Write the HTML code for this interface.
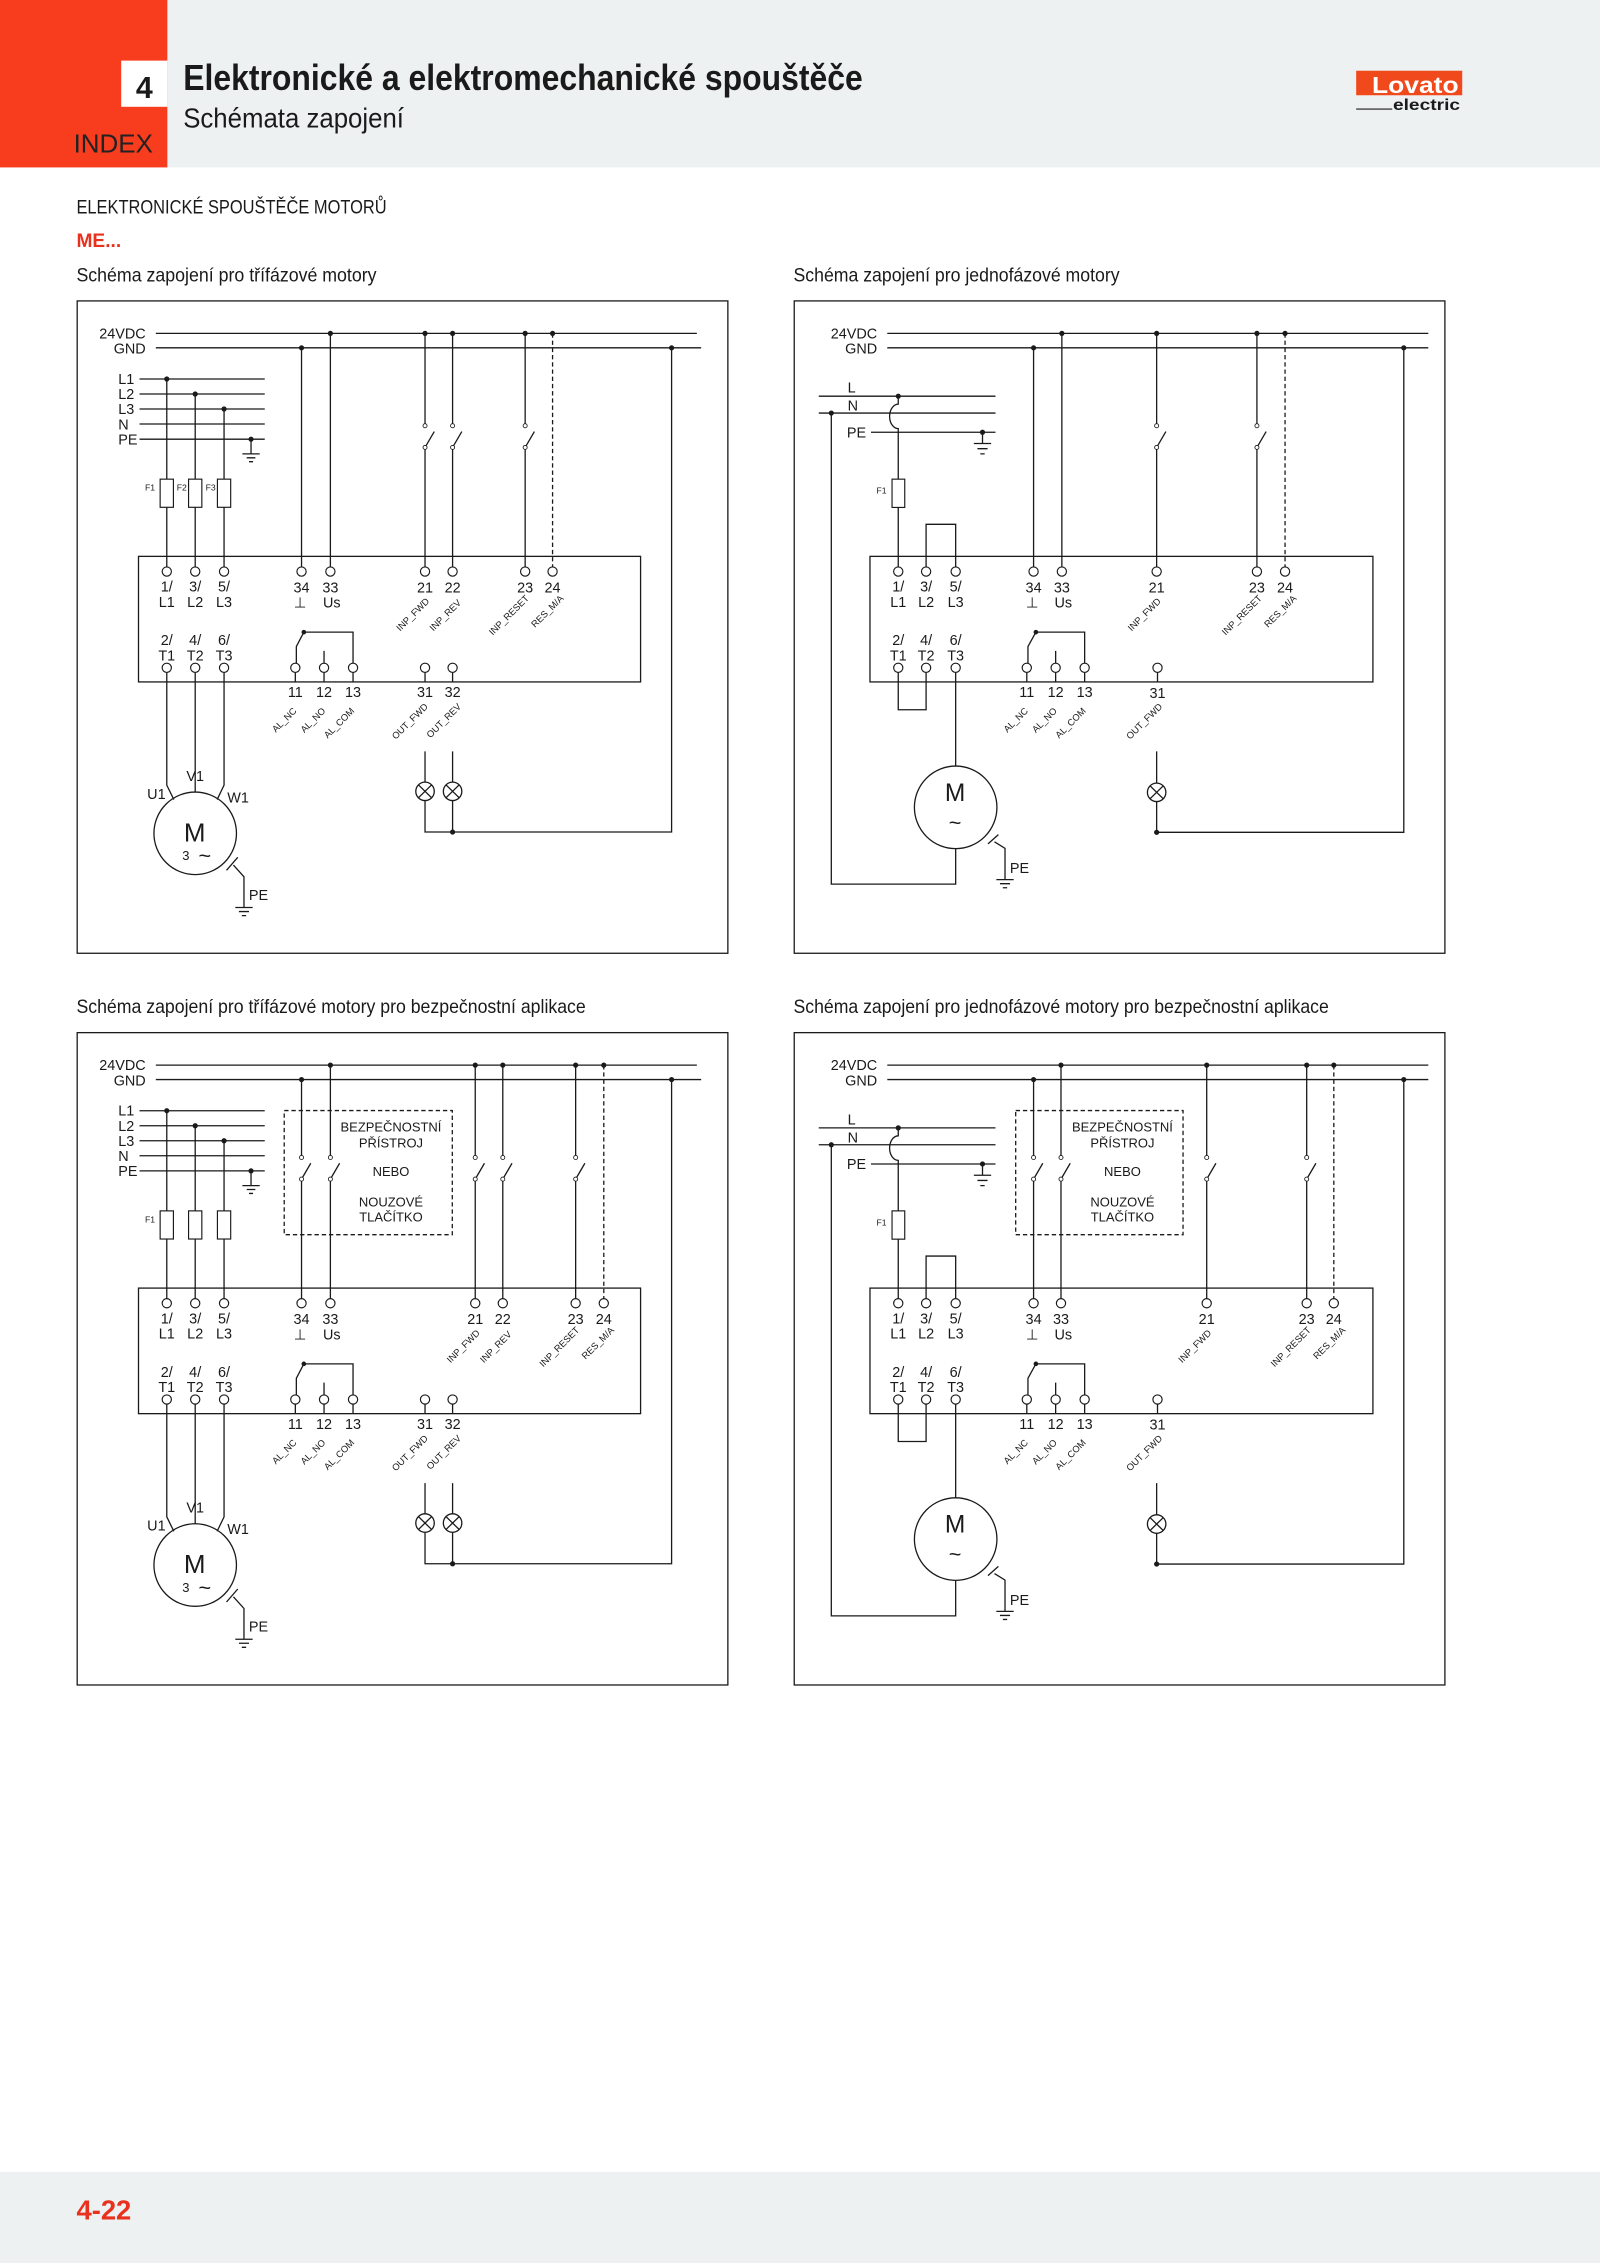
<!DOCTYPE html>
<html><head><meta charset="utf-8"><style>
html,body{margin:0;padding:0;background:#fff}
svg{display:block}
.l{stroke:#1a1a1a;stroke-width:0.9;fill:none}
.d{stroke:#1a1a1a;stroke-width:0.9;fill:none;stroke-dasharray:3,2}
.c{stroke:#1a1a1a;stroke-width:0.8;fill:#fff}
.o{stroke:#1a1a1a;stroke-width:0.6;fill:#fff}
.k{fill:#1a1a1a}
text{font-family:"Liberation Sans Narrow","Liberation Sans",sans-serif;fill:#1a1a1a}
.s{font-size:10px}
.m{font-size:10px;text-anchor:middle}
.r{font-size:6.5px;text-anchor:end}
.f{font-size:6px}
</style></head><body>
<svg width="1600" height="2263" viewBox="0 0 1109 1568" preserveAspectRatio="none" xmlns="http://www.w3.org/2000/svg">
<!-- header -->
<rect x="0" y="0" width="1109" height="116" fill="#eef1f2"/>
<rect x="0" y="0" width="116" height="116" fill="#f83c1e"/>
<rect x="84" y="42" width="32" height="32" fill="#fff"/>
<text x="100" y="68" text-anchor="middle" style="font-size:21px;font-weight:bold;font-family:'Liberation Sans',sans-serif">4</text>
<text x="127" y="62.5" textLength="471" lengthAdjust="spacingAndGlyphs" style="font-size:25px;font-weight:bold;font-family:'Liberation Sans',sans-serif">Elektronické a elektromechanické spouštěče</text>
<text x="127" y="88.5" textLength="153" lengthAdjust="spacingAndGlyphs" style="font-size:19px;font-family:'Liberation Sans',sans-serif">Schémata zapojení</text>
<text x="51" y="105.5" textLength="55" lengthAdjust="spacingAndGlyphs" style="font-size:18px;font-family:'Liberation Sans',sans-serif;fill:#222">INDEX</text>
<rect x="940" y="49" width="73.5" height="17" fill="#f04a1c"/>
<text x="951" y="64.5" textLength="60" lengthAdjust="spacingAndGlyphs" style="font-size:16px;font-weight:bold;fill:#fff;font-family:'Liberation Sans',sans-serif">Lovato</text>
<text x="965.5" y="76.2" textLength="46.5" lengthAdjust="spacingAndGlyphs" style="font-size:11px;font-weight:bold;font-family:'Liberation Sans',sans-serif">electric</text>
<line x1="940" y1="75.6" x2="965" y2="75.6" stroke="#1a1a1a" stroke-width="0.8"/>
<!-- section titles -->
<text x="53" y="148" textLength="215" lengthAdjust="spacingAndGlyphs" style="font-size:13.5px;font-family:'Liberation Sans',sans-serif">ELEKTRONICKÉ SPOUŠTĚČE MOTORŮ</text>
<text x="53" y="171" textLength="31" lengthAdjust="spacingAndGlyphs" style="font-size:13.5px;font-family:'Liberation Sans',sans-serif;fill:#e8321e;font-weight:bold">ME...</text>
<text x="53" y="195" textLength="208" lengthAdjust="spacingAndGlyphs" style="font-size:13.5px;font-family:'Liberation Sans',sans-serif">Schéma zapojení pro třífázové motory</text>
<text x="550" y="195" textLength="226" lengthAdjust="spacingAndGlyphs" style="font-size:13.5px;font-family:'Liberation Sans',sans-serif">Schéma zapojení pro jednofázové motory</text>
<text x="53" y="702" textLength="353" lengthAdjust="spacingAndGlyphs" style="font-size:13.5px;font-family:'Liberation Sans',sans-serif">Schéma zapojení pro třífázové motory pro bezpečnostní aplikace</text>
<text x="550" y="702" textLength="371" lengthAdjust="spacingAndGlyphs" style="font-size:13.5px;font-family:'Liberation Sans',sans-serif">Schéma zapojení pro jednofázové motory pro bezpečnostní aplikace</text>
<!-- footer -->
<rect x="0" y="1505" width="1109" height="63" fill="#eef1f2"/>
<text x="53" y="1538" style="font-size:19px;font-weight:bold;fill:#e8321e;font-family:'Liberation Sans',sans-serif">4-22</text>

<!-- ============ TOP-LEFT ============ -->
<g>
<rect class="l" x="53.5" y="208.5" width="451" height="452"/>
<text class="s" x="101" y="234.5" text-anchor="end">24VDC</text>
<text class="s" x="101" y="245" text-anchor="end">GND</text>
<path class="l" d="M108 231H483M108 241H486"/>
<g class="k"><circle cx="229" cy="231" r="1.8"/><circle cx="294.6" cy="231" r="1.8"/><circle cx="313.7" cy="231" r="1.8"/><circle cx="364" cy="231" r="1.8"/><circle cx="383" cy="231" r="1.8"/><circle cx="209" cy="241" r="1.8"/><circle cx="465.5" cy="241" r="1.8"/></g>
<text class="s" x="82" y="266">L1</text><text class="s" x="82" y="276.5">L2</text><text class="s" x="82" y="287">L3</text><text class="s" x="82" y="297.5">N</text><text class="s" x="82" y="308">PE</text>
<path class="l" d="M96.7 262.6H183.5M96.7 273H183.5M96.7 283.4H183.5M96.7 293.8H183.5M96.7 304.3H183.5"/>
<g class="k"><circle cx="115.6" cy="262.6" r="1.8"/><circle cx="135.3" cy="273" r="1.8"/><circle cx="155.3" cy="283.4" r="1.8"/><circle cx="174" cy="304.3" r="1.8"/></g>
<path class="l" d="M174 304.3V314.5M168 314.5H180M171 317.2H177M172.6 319.9H175.4"/>
<path class="l" d="M115.6 262.6V393M135.3 273V393M155.3 283.4V393"/>
<rect class="c" x="111" y="332" width="9.2" height="19.5"/><rect class="c" x="130.7" y="332" width="9.2" height="19.5"/><rect class="c" x="150.7" y="332" width="9.2" height="19.5"/>
<text class="f" x="100.5" y="340">F1</text><text class="f" x="122.5" y="340">F2</text><text class="f" x="142.5" y="340">F3</text>
<path class="l" d="M209 241V393M229 231V393"/>
<path class="l" d="M294.6 231V293.6M294.6 311.4V393M294.6 310L301 299M313.7 231V293.6M313.7 311.4V393M313.7 310L320.1 299M364 231V293.6M364 311.4V393M364 310L370.4 299"/>
<g class="o"><circle cx="294.6" cy="295" r="1.4"/><circle cx="294.6" cy="310" r="1.4"/><circle cx="313.7" cy="295" r="1.4"/><circle cx="313.7" cy="310" r="1.4"/><circle cx="364" cy="295" r="1.4"/><circle cx="364" cy="310" r="1.4"/></g>
<path class="d" d="M383 231V393"/>
<rect class="l" x="96" y="385.5" width="348" height="87"/>
<g class="c"><circle cx="115.6" cy="396" r="3.2"/><circle cx="135.3" cy="396" r="3.2"/><circle cx="155.3" cy="396" r="3.2"/><circle cx="209" cy="396" r="3.2"/><circle cx="229" cy="396" r="3.2"/><circle cx="294.6" cy="396" r="3.2"/><circle cx="313.7" cy="396" r="3.2"/><circle cx="364" cy="396" r="3.2"/><circle cx="383" cy="396" r="3.2"/></g>
<text class="m" x="115.6" y="410">1/</text><text class="m" x="135.3" y="410">3/</text><text class="m" x="155.3" y="410">5/</text>
<text class="m" x="115.6" y="420.5">L1</text><text class="m" x="135.3" y="420.5">L2</text><text class="m" x="155.3" y="420.5">L3</text>
<text class="m" x="209" y="410.5">34</text><text class="m" x="229" y="410.5">33</text><text class="m" x="294.6" y="410.5">21</text><text class="m" x="313.7" y="410.5">22</text><text class="m" x="364" y="410.5">23</text><text class="m" x="383" y="410.5">24</text>
<text class="m" x="208" y="421">⊥</text><text class="m" x="230" y="421">Us</text>
<text class="r" transform="translate(298,417) rotate(-45)">INP_FWD</text>
<text class="r" transform="translate(320,418) rotate(-45)">INP_REV</text>
<text class="r" transform="translate(367,415) rotate(-45)">INP_RESET</text>
<text class="r" transform="translate(391,415) rotate(-45)">RES_M/A</text>
<text class="m" x="115.6" y="447">2/</text><text class="m" x="135.3" y="447">4/</text><text class="m" x="155.3" y="447">6/</text>
<text class="m" x="115.6" y="457.5">T1</text><text class="m" x="135.3" y="457.5">T2</text><text class="m" x="155.3" y="457.5">T3</text>
<path class="l" d="M244.7 459.5V438H210.6L205.4 448V459.5M224.6 451V459.5M294.6 466V472.6M313.7 466V472.6M204.7 466V472.6M224.6 466V472.6M244.7 466V472.6"/>
<circle class="k" cx="210.6" cy="438" r="1.6"/>
<g class="c"><circle cx="115.6" cy="462.7" r="3.2"/><circle cx="135.3" cy="462.7" r="3.2"/><circle cx="155.3" cy="462.7" r="3.2"/><circle cx="204.7" cy="462.7" r="3.2"/><circle cx="224.6" cy="462.7" r="3.2"/><circle cx="244.7" cy="462.7" r="3.2"/><circle cx="294.6" cy="462.7" r="3.2"/><circle cx="313.7" cy="462.7" r="3.2"/></g>
<text class="m" x="204.7" y="483">11</text><text class="m" x="224.6" y="483">12</text><text class="m" x="244.7" y="483">13</text><text class="m" x="294.6" y="483">31</text><text class="m" x="313.7" y="483">32</text>
<text class="r" transform="translate(206,493) rotate(-45)">AL_NC</text>
<text class="r" transform="translate(226,493) rotate(-45)">AL_NO</text>
<text class="r" transform="translate(246,493) rotate(-45)">AL_COM</text>
<text class="r" transform="translate(297,490) rotate(-45)">OUT_FWD</text>
<text class="r" transform="translate(320,490) rotate(-45)">OUT_REV</text>
<path class="l" d="M115.6 466V544L120.5 554M135.3 466V548.8M155.3 466V544L150.5 554"/>
<text class="m" x="108.4" y="553.5">U1</text><text class="m" x="135.3" y="541">V1</text><text class="m" x="165" y="556">W1</text>
<circle class="l" cx="135.3" cy="577.4" r="28.6"/>
<text x="135" y="583" text-anchor="middle" style="font-size:18px;font-family:'Liberation Sans',sans-serif">M</text>
<text x="128.8" y="596" text-anchor="middle" style="font-size:9px">3</text>
<text x="142" y="598" text-anchor="middle" style="font-size:15px">~</text>
<path class="l" d="M157 603L164.8 594M161.8 599.4L169.1 607.5V628.8M163.1 628.8H175.1M165.6 631.6H172.6M167.6 634.4H170.6"/>
<text class="s" x="172.5" y="623.5">PE</text>
<path class="l" d="M294.6 520.6V541.9M294.6 554.7V576.5H465.5V241M313.7 520.6V541.9M313.7 554.7V576.5"/>
<circle class="l" cx="294.6" cy="548.3" r="6.4"/><path class="l" d="M290 543.8L299.2 552.8M299.2 543.8L290 552.8"/>
<circle class="l" cx="313.7" cy="548.3" r="6.4"/><path class="l" d="M309.1 543.8L318.3 552.8M318.3 543.8L309.1 552.8"/>
<circle class="k" cx="313.7" cy="576.5" r="1.8"/>
</g>

<!-- ============ BOTTOM-LEFT ============ -->
<g transform="translate(0,507)">
<rect class="l" x="53.5" y="208.5" width="451" height="452"/>
<text class="s" x="101" y="234.5" text-anchor="end">24VDC</text>
<text class="s" x="101" y="245" text-anchor="end">GND</text>
<path class="l" d="M108 231H483M108 241H486"/>
<g class="k"><circle cx="229" cy="231" r="1.8"/><circle cx="329.4" cy="231" r="1.8"/><circle cx="348.5" cy="231" r="1.8"/><circle cx="399" cy="231" r="1.8"/><circle cx="418.5" cy="231" r="1.8"/><circle cx="209" cy="241" r="1.8"/><circle cx="465.5" cy="241" r="1.8"/></g>
<text class="s" x="82" y="266">L1</text><text class="s" x="82" y="276.5">L2</text><text class="s" x="82" y="287">L3</text><text class="s" x="82" y="297.5">N</text><text class="s" x="82" y="308">PE</text>
<path class="l" d="M96.7 262.6H183.5M96.7 273H183.5M96.7 283.4H183.5M96.7 293.8H183.5M96.7 304.3H183.5"/>
<g class="k"><circle cx="115.6" cy="262.6" r="1.8"/><circle cx="135.3" cy="273" r="1.8"/><circle cx="155.3" cy="283.4" r="1.8"/><circle cx="174" cy="304.3" r="1.8"/></g>
<path class="l" d="M174 304.3V314.5M168 314.5H180M171 317.2H177M172.6 319.9H175.4"/>
<path class="l" d="M115.6 262.6V393M135.3 273V393M155.3 283.4V393"/>
<rect class="c" x="111" y="332" width="9.2" height="19.5"/><rect class="c" x="130.7" y="332" width="9.2" height="19.5"/><rect class="c" x="150.7" y="332" width="9.2" height="19.5"/>
<text class="f" x="100.5" y="340">F1</text>
<rect class="d" x="197" y="262.5" width="116.5" height="86"/>
<text class="m" x="271" y="277" style="font-size:9px">BEZPEČNOSTNÍ</text>
<text class="m" x="271" y="288" style="font-size:9px">PŘÍSTROJ</text>
<text class="m" x="271" y="308" style="font-size:9px">NEBO</text>
<text class="m" x="271" y="329" style="font-size:9px">NOUZOVÉ</text>
<text class="m" x="271" y="339.5" style="font-size:9px">TLAČÍTKO</text>
<path class="l" d="M209 241V293.6M209 311.4V393M209 310L215.4 299M229 231V293.6M229 311.4V393M229 310L235.4 299"/>
<path class="l" d="M329.4 231V293.6M329.4 311.4V393M329.4 310L335.8 299M348.5 231V293.6M348.5 311.4V393M348.5 310L354.9 299M399 231V293.6M399 311.4V393M399 310L405.4 299"/>
<g class="o"><circle cx="209" cy="295" r="1.4"/><circle cx="209" cy="310" r="1.4"/><circle cx="229" cy="295" r="1.4"/><circle cx="229" cy="310" r="1.4"/><circle cx="329.4" cy="295" r="1.4"/><circle cx="329.4" cy="310" r="1.4"/><circle cx="348.5" cy="295" r="1.4"/><circle cx="348.5" cy="310" r="1.4"/><circle cx="399" cy="295" r="1.4"/><circle cx="399" cy="310" r="1.4"/></g>
<path class="d" d="M418.5 231V393"/>
<rect class="l" x="96" y="385.5" width="348" height="87"/>
<g class="c"><circle cx="115.6" cy="396" r="3.2"/><circle cx="135.3" cy="396" r="3.2"/><circle cx="155.3" cy="396" r="3.2"/><circle cx="209" cy="396" r="3.2"/><circle cx="229" cy="396" r="3.2"/><circle cx="329.4" cy="396" r="3.2"/><circle cx="348.5" cy="396" r="3.2"/><circle cx="399" cy="396" r="3.2"/><circle cx="418.5" cy="396" r="3.2"/></g>
<text class="m" x="115.6" y="410">1/</text><text class="m" x="135.3" y="410">3/</text><text class="m" x="155.3" y="410">5/</text>
<text class="m" x="115.6" y="420.5">L1</text><text class="m" x="135.3" y="420.5">L2</text><text class="m" x="155.3" y="420.5">L3</text>
<text class="m" x="209" y="410.5">34</text><text class="m" x="229" y="410.5">33</text><text class="m" x="329.4" y="410.5">21</text><text class="m" x="348.5" y="410.5">22</text><text class="m" x="399" y="410.5">23</text><text class="m" x="418.5" y="410.5">24</text>
<text class="m" x="208" y="421">⊥</text><text class="m" x="230" y="421">Us</text>
<text class="r" transform="translate(333,417) rotate(-45)">INP_FWD</text>
<text class="r" transform="translate(355,418) rotate(-45)">INP_REV</text>
<text class="r" transform="translate(402,415) rotate(-45)">INP_RESET</text>
<text class="r" transform="translate(426,415) rotate(-45)">RES_M/A</text>
<text class="m" x="115.6" y="447">2/</text><text class="m" x="135.3" y="447">4/</text><text class="m" x="155.3" y="447">6/</text>
<text class="m" x="115.6" y="457.5">T1</text><text class="m" x="135.3" y="457.5">T2</text><text class="m" x="155.3" y="457.5">T3</text>
<path class="l" d="M244.7 459.5V438H210.6L205.4 448V459.5M224.6 451V459.5M294.6 466V472.6M313.7 466V472.6M204.7 466V472.6M224.6 466V472.6M244.7 466V472.6"/>
<circle class="k" cx="210.6" cy="438" r="1.6"/>
<g class="c"><circle cx="115.6" cy="462.7" r="3.2"/><circle cx="135.3" cy="462.7" r="3.2"/><circle cx="155.3" cy="462.7" r="3.2"/><circle cx="204.7" cy="462.7" r="3.2"/><circle cx="224.6" cy="462.7" r="3.2"/><circle cx="244.7" cy="462.7" r="3.2"/><circle cx="294.6" cy="462.7" r="3.2"/><circle cx="313.7" cy="462.7" r="3.2"/></g>
<text class="m" x="204.7" y="483">11</text><text class="m" x="224.6" y="483">12</text><text class="m" x="244.7" y="483">13</text><text class="m" x="294.6" y="483">31</text><text class="m" x="313.7" y="483">32</text>
<text class="r" transform="translate(206,493) rotate(-45)">AL_NC</text>
<text class="r" transform="translate(226,493) rotate(-45)">AL_NO</text>
<text class="r" transform="translate(246,493) rotate(-45)">AL_COM</text>
<text class="r" transform="translate(297,490) rotate(-45)">OUT_FWD</text>
<text class="r" transform="translate(320,490) rotate(-45)">OUT_REV</text>
<path class="l" d="M115.6 466V544L120.5 554M135.3 466V548.8M155.3 466V544L150.5 554"/>
<text class="m" x="108.4" y="553.5">U1</text><text class="m" x="135.3" y="541">V1</text><text class="m" x="165" y="556">W1</text>
<circle class="l" cx="135.3" cy="577.4" r="28.6"/>
<text x="135" y="583" text-anchor="middle" style="font-size:18px;font-family:'Liberation Sans',sans-serif">M</text>
<text x="128.8" y="596" text-anchor="middle" style="font-size:9px">3</text>
<text x="142" y="598" text-anchor="middle" style="font-size:15px">~</text>
<path class="l" d="M157 603L164.8 594M161.8 599.4L169.1 607.5V628.8M163.1 628.8H175.1M165.6 631.6H172.6M167.6 634.4H170.6"/>
<text class="s" x="172.5" y="623.5">PE</text>
<path class="l" d="M294.6 520.6V541.9M294.6 554.7V576.5H465.5V241M313.7 520.6V541.9M313.7 554.7V576.5"/>
<circle class="l" cx="294.6" cy="548.3" r="6.4"/><path class="l" d="M290 543.8L299.2 552.8M299.2 543.8L290 552.8"/>
<circle class="l" cx="313.7" cy="548.3" r="6.4"/><path class="l" d="M309.1 543.8L318.3 552.8M318.3 543.8L309.1 552.8"/>
<circle class="k" cx="313.7" cy="576.5" r="1.8"/>
</g>

<!-- ============ TOP-RIGHT ============ -->
<g>
<rect class="l" x="550.5" y="208.5" width="451" height="452"/>
<text class="s" x="608" y="234.5" text-anchor="end">24VDC</text>
<text class="s" x="608" y="245" text-anchor="end">GND</text>
<path class="l" d="M615 231H990M615 241H990"/>
<g class="k"><circle cx="736" cy="231" r="1.8"/><circle cx="801.7" cy="231" r="1.8"/><circle cx="871.2" cy="231" r="1.8"/><circle cx="890.7" cy="231" r="1.8"/><circle cx="716.4" cy="241" r="1.8"/><circle cx="973" cy="241" r="1.8"/></g>
<text class="s" x="587.5" y="272">L</text><text class="s" x="587.5" y="284.5">N</text><text class="s" x="587" y="303">PE</text>
<path class="l" d="M567.5 274.5H690M567.5 286.2H690M603.7 299.5H690"/>
<g class="k"><circle cx="622.6" cy="274.5" r="1.8"/><circle cx="576.2" cy="286.2" r="1.8"/><circle cx="681" cy="299.5" r="1.8"/></g>
<path class="l" d="M681 299.5V307.3M675 307.3H687M677.5 310.9H684.5M679.5 314.5H682.5"/>
<path class="l" d="M622.6 274.5V280A6 8.5 0 0 0 622.6 297V393"/>
<rect class="c" x="618.3" y="332" width="8.8" height="19.6"/>
<text class="f" x="607.5" y="342">F1</text>
<path class="l" d="M641.9 393V363.3H662.4V393"/>
<path class="l" d="M716.4 241V393M736 231V393"/>
<path class="l" d="M801.7 231V293.6M801.7 311.4V393M801.7 310L808.1 299M871.2 231V293.6M871.2 311.4V393M871.2 310L877.6 299"/>
<g class="o"><circle cx="801.7" cy="295" r="1.4"/><circle cx="801.7" cy="310" r="1.4"/><circle cx="871.2" cy="295" r="1.4"/><circle cx="871.2" cy="310" r="1.4"/></g>
<path class="d" d="M890.7 231V393"/>
<rect class="l" x="603" y="385.5" width="348.6" height="87"/>
<g class="c"><circle cx="622.6" cy="396" r="3.2"/><circle cx="641.9" cy="396" r="3.2"/><circle cx="662.4" cy="396" r="3.2"/><circle cx="716.4" cy="396" r="3.2"/><circle cx="736" cy="396" r="3.2"/><circle cx="801.7" cy="396" r="3.2"/><circle cx="871.2" cy="396" r="3.2"/><circle cx="890.7" cy="396" r="3.2"/></g>
<text class="m" x="622.6" y="410">1/</text><text class="m" x="641.9" y="410">3/</text><text class="m" x="662.4" y="410">5/</text>
<text class="m" x="622.6" y="420.5">L1</text><text class="m" x="641.9" y="420.5">L2</text><text class="m" x="662.4" y="420.5">L3</text>
<text class="m" x="716.4" y="410.5">34</text><text class="m" x="736" y="410.5">33</text><text class="m" x="801.7" y="410.5">21</text><text class="m" x="871.2" y="410.5">23</text><text class="m" x="890.7" y="410.5">24</text>
<text class="m" x="715.4" y="421">⊥</text><text class="m" x="737" y="421">Us</text>
<text class="r" transform="translate(805,417) rotate(-45)">INP_FWD</text>
<text class="r" transform="translate(875,415) rotate(-45)">INP_RESET</text>
<text class="r" transform="translate(899,415) rotate(-45)">RES_M/A</text>
<text class="m" x="622.6" y="447">2/</text><text class="m" x="641.9" y="447">4/</text><text class="m" x="662.4" y="447">6/</text>
<text class="m" x="622.6" y="457.5">T1</text><text class="m" x="641.9" y="457.5">T2</text><text class="m" x="662.4" y="457.5">T3</text>
<path class="l" d="M751.8 459.5V438H718L712.5 448V459.5M731.7 451V459.5M711.7 466V472.6M731.7 466V472.6M751.8 466V472.6M802.3 466V472.6"/>
<circle class="k" cx="718" cy="438" r="1.6"/>
<g class="c"><circle cx="622.6" cy="462.7" r="3.2"/><circle cx="641.9" cy="462.7" r="3.2"/><circle cx="662.4" cy="462.7" r="3.2"/><circle cx="711.7" cy="462.7" r="3.2"/><circle cx="731.7" cy="462.7" r="3.2"/><circle cx="751.8" cy="462.7" r="3.2"/><circle cx="802.3" cy="462.7" r="3.2"/></g>
<text class="m" x="711.7" y="483">11</text><text class="m" x="731.7" y="483">12</text><text class="m" x="751.8" y="483">13</text><text class="m" x="802.3" y="483.5">31</text>
<text class="r" transform="translate(713,493) rotate(-45)">AL_NC</text>
<text class="r" transform="translate(733,493) rotate(-45)">AL_NO</text>
<text class="r" transform="translate(753,493) rotate(-45)">AL_COM</text>
<text class="r" transform="translate(806,490) rotate(-45)">OUT_FWD</text>
<path class="l" d="M622.6 466V491.8H641.9V466M662.4 466V530.8M662.4 588V612.6H576.2V286.2"/>
<circle class="l" cx="662.4" cy="559.4" r="28.6"/>
<text x="662" y="555" text-anchor="middle" style="font-size:17px;font-family:'Liberation Sans',sans-serif">M</text>
<text x="662" y="575" text-anchor="middle" style="font-size:15px">~</text>
<path class="l" d="M684.8 584.7L692 578.3M689.3 583.3L696.6 587.8V609.5M690.6 609.5H702.6M693.1 612.3H700.1M695.1 615.1H698.1"/>
<text class="s" x="700" y="605">PE</text>
<path class="l" d="M801.7 520.6V542.6M801.7 555.4V576.7H973V241"/>
<circle class="l" cx="801.7" cy="549" r="6.4"/><path class="l" d="M797.1 544.5L806.3 553.5M806.3 544.5L797.1 553.5"/>
<circle class="k" cx="801.7" cy="576.7" r="1.8"/>
</g>

<!-- ============ BOTTOM-RIGHT ============ -->
<g transform="translate(0,507)">
<rect class="l" x="550.5" y="208.5" width="451" height="452"/>
<text class="s" x="608" y="234.5" text-anchor="end">24VDC</text>
<text class="s" x="608" y="245" text-anchor="end">GND</text>
<path class="l" d="M615 231H990M615 241H990"/>
<g class="k"><circle cx="735.4" cy="231" r="1.8"/><circle cx="836.4" cy="231" r="1.8"/><circle cx="905.7" cy="231" r="1.8"/><circle cx="924.5" cy="231" r="1.8"/><circle cx="716.4" cy="241" r="1.8"/><circle cx="973" cy="241" r="1.8"/></g>
<text class="s" x="587.5" y="272">L</text><text class="s" x="587.5" y="284.5">N</text><text class="s" x="587" y="303">PE</text>
<path class="l" d="M567.5 274.5H690M567.5 286.2H690M603.7 299.5H690"/>
<g class="k"><circle cx="622.6" cy="274.5" r="1.8"/><circle cx="576.2" cy="286.2" r="1.8"/><circle cx="681" cy="299.5" r="1.8"/></g>
<path class="l" d="M681 299.5V307.3M675 307.3H687M677.5 310.9H684.5M679.5 314.5H682.5"/>
<path class="l" d="M622.6 274.5V280A6 8.5 0 0 0 622.6 297V393"/>
<rect class="c" x="618.3" y="332" width="8.8" height="19.6"/>
<text class="f" x="607.5" y="342">F1</text>
<path class="l" d="M641.9 393V363.3H662.4V393"/>
<rect class="d" x="704" y="262.5" width="116" height="86"/>
<text class="m" x="778" y="277" style="font-size:9px">BEZPEČNOSTNÍ</text>
<text class="m" x="778" y="288" style="font-size:9px">PŘÍSTROJ</text>
<text class="m" x="778" y="308" style="font-size:9px">NEBO</text>
<text class="m" x="778" y="329" style="font-size:9px">NOUZOVÉ</text>
<text class="m" x="778" y="339.5" style="font-size:9px">TLAČÍTKO</text>
<path class="l" d="M716.4 241V293.6M716.4 311.4V393M716.4 310L722.8 299M735.4 231V293.6M735.4 311.4V393M735.4 310L741.8 299"/>
<path class="l" d="M836.4 231V293.6M836.4 311.4V393M836.4 310L842.8 299M905.7 231V293.6M905.7 311.4V393M905.7 310L912.1 299"/>
<g class="o"><circle cx="716.4" cy="295" r="1.4"/><circle cx="716.4" cy="310" r="1.4"/><circle cx="735.4" cy="295" r="1.4"/><circle cx="735.4" cy="310" r="1.4"/><circle cx="836.4" cy="295" r="1.4"/><circle cx="836.4" cy="310" r="1.4"/><circle cx="905.7" cy="295" r="1.4"/><circle cx="905.7" cy="310" r="1.4"/></g>
<path class="d" d="M924.5 231V393"/>
<rect class="l" x="603" y="385.5" width="348.6" height="87"/>
<g class="c"><circle cx="622.6" cy="396" r="3.2"/><circle cx="641.9" cy="396" r="3.2"/><circle cx="662.4" cy="396" r="3.2"/><circle cx="716.4" cy="396" r="3.2"/><circle cx="735.4" cy="396" r="3.2"/><circle cx="836.4" cy="396" r="3.2"/><circle cx="905.7" cy="396" r="3.2"/><circle cx="924.5" cy="396" r="3.2"/></g>
<text class="m" x="622.6" y="410">1/</text><text class="m" x="641.9" y="410">3/</text><text class="m" x="662.4" y="410">5/</text>
<text class="m" x="622.6" y="420.5">L1</text><text class="m" x="641.9" y="420.5">L2</text><text class="m" x="662.4" y="420.5">L3</text>
<text class="m" x="716.4" y="410.5">34</text><text class="m" x="735.4" y="410.5">33</text><text class="m" x="836.4" y="410.5">21</text><text class="m" x="905.7" y="410.5">23</text><text class="m" x="924.5" y="410.5">24</text>
<text class="m" x="715.4" y="421">⊥</text><text class="m" x="737" y="421">Us</text>
<text class="r" transform="translate(840,417) rotate(-45)">INP_FWD</text>
<text class="r" transform="translate(909,415) rotate(-45)">INP_RESET</text>
<text class="r" transform="translate(933,415) rotate(-45)">RES_M/A</text>
<text class="m" x="622.6" y="447">2/</text><text class="m" x="641.9" y="447">4/</text><text class="m" x="662.4" y="447">6/</text>
<text class="m" x="622.6" y="457.5">T1</text><text class="m" x="641.9" y="457.5">T2</text><text class="m" x="662.4" y="457.5">T3</text>
<path class="l" d="M751.8 459.5V438H718L712.5 448V459.5M731.7 451V459.5M711.7 466V472.6M731.7 466V472.6M751.8 466V472.6M802.3 466V472.6"/>
<circle class="k" cx="718" cy="438" r="1.6"/>
<g class="c"><circle cx="622.6" cy="462.7" r="3.2"/><circle cx="641.9" cy="462.7" r="3.2"/><circle cx="662.4" cy="462.7" r="3.2"/><circle cx="711.7" cy="462.7" r="3.2"/><circle cx="731.7" cy="462.7" r="3.2"/><circle cx="751.8" cy="462.7" r="3.2"/><circle cx="802.3" cy="462.7" r="3.2"/></g>
<text class="m" x="711.7" y="483">11</text><text class="m" x="731.7" y="483">12</text><text class="m" x="751.8" y="483">13</text><text class="m" x="802.3" y="483.5">31</text>
<text class="r" transform="translate(713,493) rotate(-45)">AL_NC</text>
<text class="r" transform="translate(733,493) rotate(-45)">AL_NO</text>
<text class="r" transform="translate(753,493) rotate(-45)">AL_COM</text>
<text class="r" transform="translate(806,490) rotate(-45)">OUT_FWD</text>
<path class="l" d="M622.6 466V491.8H641.9V466M662.4 466V530.8M662.4 588V612.6H576.2V286.2"/>
<circle class="l" cx="662.4" cy="559.4" r="28.6"/>
<text x="662" y="555" text-anchor="middle" style="font-size:17px;font-family:'Liberation Sans',sans-serif">M</text>
<text x="662" y="575" text-anchor="middle" style="font-size:15px">~</text>
<path class="l" d="M684.8 584.7L692 578.3M689.3 583.3L696.6 587.8V609.5M690.6 609.5H702.6M693.1 612.3H700.1M695.1 615.1H698.1"/>
<text class="s" x="700" y="605">PE</text>
<path class="l" d="M801.7 520.6V542.6M801.7 555.4V576.7H973V241"/>
<circle class="l" cx="801.7" cy="549" r="6.4"/><path class="l" d="M797.1 544.5L806.3 553.5M806.3 544.5L797.1 553.5"/>
<circle class="k" cx="801.7" cy="576.7" r="1.8"/>
</g>
</svg>
</body></html>
